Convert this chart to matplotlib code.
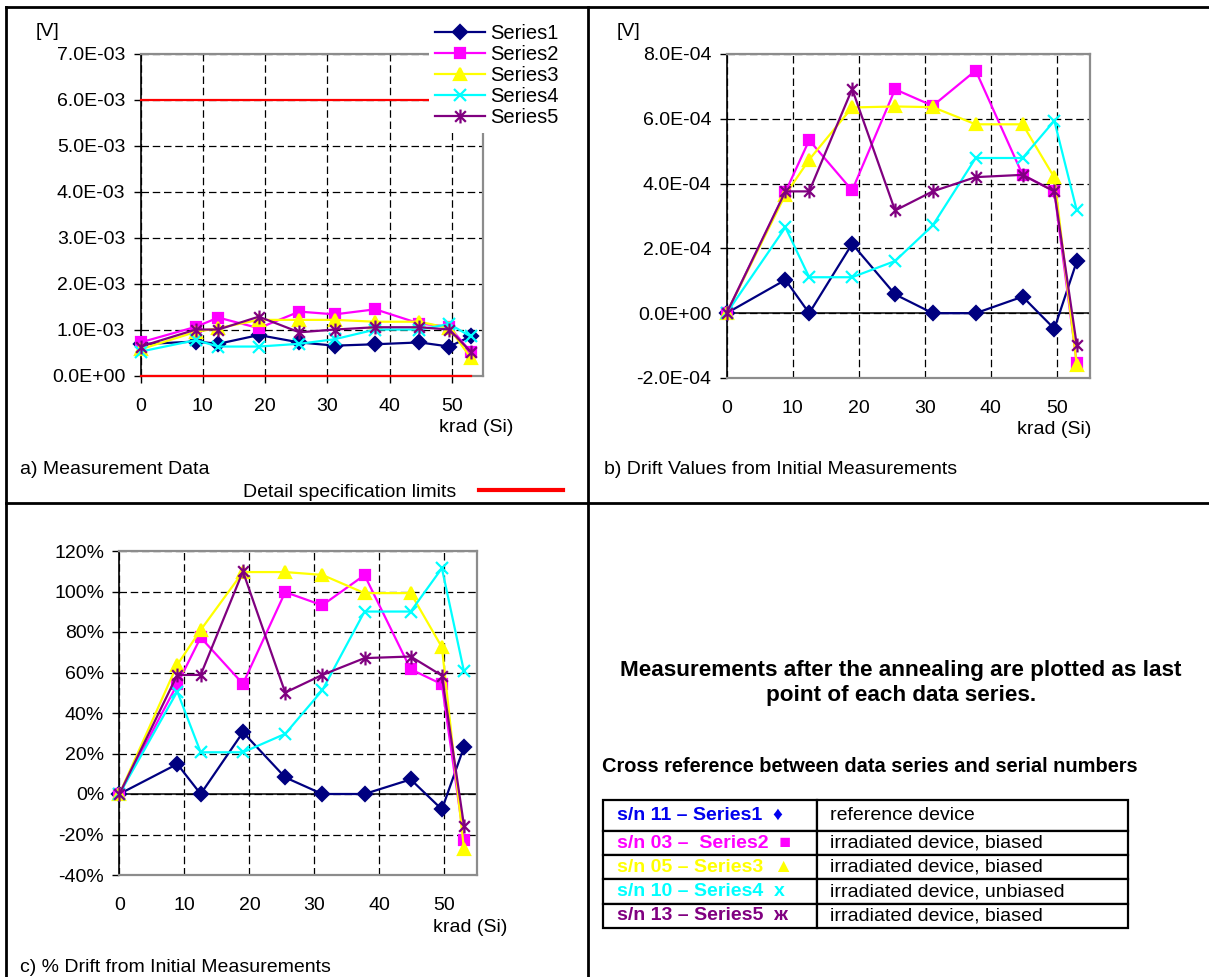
import matplotlib
matplotlib.use("Agg")
import matplotlib.pyplot as plt
from matplotlib.lines import Line2D
from matplotlib.path import Path
from matplotlib.ticker import FuncFormatter, MultipleLocator, PercentFormatter

plt.rcParams['font.family'] = ['Liberation Sans', 'DejaVu Sans']
plt.rcParams['axes.unicode_minus'] = False

# Total dose steps [krad (Si)]; last point is the measurement after annealing
dose = [0, 8.9, 12.5, 19.0, 25.5, 31.2, 37.7, 44.8, 49.6, 53.0]
series_names = ['Series1', 'Series2', 'Series3', 'Series4', 'Series5']

# a) Measurement data [V]
meas_s1 = [0.69e-3, 0.75e-3, 0.70e-3, 0.89e-3, 0.73e-3, 0.66e-3, 0.69e-3, 0.73e-3, 0.64e-3, 0.86e-3]
meas_s2 = [0.73e-3, 1.07e-3, 1.27e-3, 1.04e-3, 1.40e-3, 1.34e-3, 1.45e-3, 1.14e-3, 1.07e-3, 0.53e-3]
meas_s3 = [0.58e-3, 0.96e-3, 1.04e-3, 1.22e-3, 1.22e-3, 1.22e-3, 1.18e-3, 1.18e-3, 1.04e-3, 0.40e-3]
meas_s4 = [0.53e-3, 0.78e-3, 0.64e-3, 0.64e-3, 0.70e-3, 0.80e-3, 1.01e-3, 1.01e-3, 1.13e-3, 0.86e-3]
meas_s5 = [0.64e-3, 1.01e-3, 1.01e-3, 1.29e-3, 0.95e-3, 1.01e-3, 1.06e-3, 1.06e-3, 1.01e-3, 0.53e-3]
spec_limits = [6.0e-3, 0.0]

# b) Drift from initial measurement [V]
drift_s1 = [0, 1.03e-4, 0, 2.14e-4, 0.58e-4, 0, 0, 0.51e-4, -0.48e-4, 1.60e-4]
drift_s2 = [0, 3.74e-4, 5.34e-4, 3.79e-4, 6.91e-4, 6.40e-4, 7.49e-4, 4.27e-4, 3.76e-4, -1.55e-4]
drift_s3 = [0, 3.66e-4, 4.74e-4, 6.35e-4, 6.38e-4, 6.36e-4, 5.83e-4, 5.83e-4, 4.19e-4, -1.60e-4]
drift_s4 = [0, 2.65e-4, 1.11e-4, 1.11e-4, 1.61e-4, 2.71e-4, 4.79e-4, 4.79e-4, 5.94e-4, 3.17e-4]
drift_s5 = [0, 3.76e-4, 3.76e-4, 6.92e-4, 3.17e-4, 3.76e-4, 4.20e-4, 4.27e-4, 3.76e-4, -0.99e-4]

# c) % drift from initial measurement
pct_s1 = [0, 14.8, 0, 30.5, 8.2, 0, 0, 7.2, -7.6, 23.2]
pct_s2 = [0, 54.2, 77.3, 54.4, 99.7, 93.2, 108.1, 61.6, 54.2, -22.7]
pct_s3 = [0, 63.8, 81.0, 109.6, 109.6, 108.2, 99.2, 99.2, 72.5, -27.3]
pct_s4 = [0, 50.6, 20.6, 20.6, 29.7, 51.2, 90.1, 90.1, 111.5, 60.5]
pct_s5 = [0, 58.8, 58.8, 109.9, 50.1, 58.8, 67.1, 67.9, 58.5, -15.6]

# Cross reference table
serial_labels = ['s/n 11 \u2013 Series1  \u2666', 's/n 03 \u2013  Series2  \u25a0',
                 's/n 05 \u2013 Series3  \u25b2', 's/n 10 \u2013 Series4  x',
                 's/n 13 \u2013 Series5  \u0436']
device_notes = ['reference device', 'irradiated device, biased', 'irradiated device, biased',
                'irradiated device, unbiased', 'irradiated device, biased']

line_colors = ['#000080', '#ff00ff', '#ffff00', '#00ffff', '#800080']
text_colors = ['#0000ee', '#ff00ff', '#ffff00', '#00ffff', '#800080']

# Excel style star: an x with a vertical bar through it
star = Path([(-1, -1), (1, 1), (-1, 1), (1, -1), (0, -1.3), (0, 1.3)],
            [Path.MOVETO, Path.LINETO, Path.MOVETO, Path.LINETO, Path.MOVETO, Path.LINETO])
markers = ['D', 's', '^', 'x', star]
msizes = [7.5, 7.5, 9, 8, 10]

W, H = 1209, 977
fig = plt.figure(figsize=(W / 100, H / 100), dpi=100)


def fx(x):
    return x / W


def fy(y):
    return 1 - y / H


def add_panel(left, top, right, bottom):
    return fig.add_axes([fx(left), fy(bottom), fx(right) - fx(left), (bottom - top) / H])


def style_axes(ax, ylim, ystep, fmt, xticks_out):
    ax.set_xlim(0, 55)
    ax.set_ylim(*ylim)
    ax.xaxis.set_major_locator(MultipleLocator(10))
    ax.yaxis.set_major_locator(MultipleLocator(ystep))
    ax.yaxis.set_major_formatter(fmt)
    ax.set_axisbelow(True)
    ax.grid(True, color='black', linestyle=(0, (6, 3)), linewidth=0.9)
    for side in ['top', 'right', 'bottom']:
        ax.spines[side].set_color('#8c8c8c')
        ax.spines[side].set_linewidth(1.6)
    ax.spines['left'].set_color('black')
    ax.spines['left'].set_linewidth(1.2)
    ax.tick_params(axis='y', direction='out', length=5, width=1, pad=6, labelsize=14)
    if xticks_out:
        ax.tick_params(axis='x', direction='out', length=5, width=1, pad=11, labelsize=14)
    else:
        ax.tick_params(axis='x', length=0, pad=16, labelsize=14)


def plot_series(ax, data):
    lines = []
    for vals, name, c, m, ms in zip(data, series_names, line_colors, markers, msizes):
        ln, = ax.plot(dose, vals, color=c, lw=1.6, marker=m, markersize=ms,
                      markerfacecolor=c, markeredgecolor=c, markeredgewidth=1.6,
                      label=name, clip_on=False, zorder=3)
        lines.append(ln)
    return lines


sci = FuncFormatter(lambda v, pos: f"{v:.1E}")

# a) Measurement data
ax_a = add_panel(140.5, 54, 483, 376)
style_axes(ax_a, (0, 7e-3), 1e-3, sci, True)
for lim in spec_limits:
    ax_a.plot([dose[0], dose[-1]], [lim, lim], color='#ff0000', lw=1.6, zorder=2.6, clip_on=False)
lines_a = plot_series(ax_a, [meas_s1, meas_s2, meas_s3, meas_s4, meas_s5])
leg = ax_a.legend(handles=lines_a, loc='upper left', bbox_to_anchor=(fx(429), fy(18)),
                  bbox_transform=fig.transFigure, fontsize=14.5, frameon=True, fancybox=False,
                  framealpha=1, edgecolor='none', borderpad=0.3, borderaxespad=0,
                  handlelength=2.5, handletextpad=0.25, labelspacing=0.1, numpoints=1)
leg.set_zorder(10)

# b) Drift values
ax_b = add_panel(726.6, 54, 1090, 378)
style_axes(ax_b, (-2e-4, 8e-4), 2e-4, sci, False)
ax_b.axhline(0, color='black', lw=1.1, zorder=2)
plot_series(ax_b, [drift_s1, drift_s2, drift_s3, drift_s4, drift_s5])

# c) Percent drift
ax_c = add_panel(119.4, 551, 477, 875)
style_axes(ax_c, (-40, 120), 20, PercentFormatter(100, decimals=0), False)
ax_c.axhline(0, color='black', lw=1.1, zorder=2)
plot_series(ax_c, [pct_s1, pct_s2, pct_s3, pct_s4, pct_s5])

# axis unit labels and captions
for x, y in [(36, 32), (617, 32)]:
    fig.text(fx(x), fy(y), '[V]', fontsize=14, ha='left', va='center')
for x, y in [(476, 428), (1054, 430), (470, 927)]:
    fig.text(fx(x), fy(y), 'krad (Si)', fontsize=14, ha='center', va='center')
fig.text(fx(20), fy(469), 'a) Measurement Data', fontsize=14, ha='left', va='center')
fig.text(fx(604), fy(469), 'b) Drift Values from Initial Measurements', fontsize=14,
         ha='left', va='center')
fig.text(fx(20), fy(968), 'c) % Drift from Initial Measurements', fontsize=14,
         ha='left', va='center')

# spec limit key under panel a
spec_key = Line2D([], [], color='#ff0000', lw=3)
fig.legend(handles=[spec_key], labels=['Detail specification limits'], markerfirst=False,
           loc='center right', bbox_to_anchor=(fx(563), fy(492)), frameon=False, fontsize=14,
           handlelength=4.3, handletextpad=1.2, borderpad=0, borderaxespad=0)

# d) notes and cross reference table
fig.text(fx(901), fy(683), 'Measurements after the annealing are plotted as last\n'
         'point of each data series.', fontsize=16.2, weight='bold', ha='center',
         va='center', linespacing=1.2)
fig.text(fx(602), fy(766), 'Cross reference between data series and serial numbers',
         fontsize=14.4, weight='bold', ha='left', va='center')

ax_d = add_panel(603, 800, 1128, 928)
ax_d.axis('off')
tbl = ax_d.table(cellText=[[a, b] for a, b in zip(serial_labels, device_notes)],
                 colWidths=[214, 311], cellLoc='left', bbox=[0, 0, 1, 1])
tbl.auto_set_font_size(False)
tbl.set_fontsize(14)
for (r, c), cell in tbl.get_celld().items():
    cell.set_height(31 if r == 0 else 24.3)
    cell.set_linewidth(1.6)
    cell.PAD = 0.065 if c == 0 else 0.042
    if c == 0:
        cell.get_text().set_color(text_colors[r])
        cell.get_text().set_fontweight('bold')

# page frame lines
frame = [((6, 1209), (7, 7)), ((6, 6), (7, 977)), ((588, 588), (7, 977)), ((6, 1209), (503, 503))]
for xs, ys in frame:
    fig.add_artist(Line2D([fx(v) for v in xs], [fy(v) for v in ys], color='black', lw=2))

fig.savefig('out.png', dpi=100)
